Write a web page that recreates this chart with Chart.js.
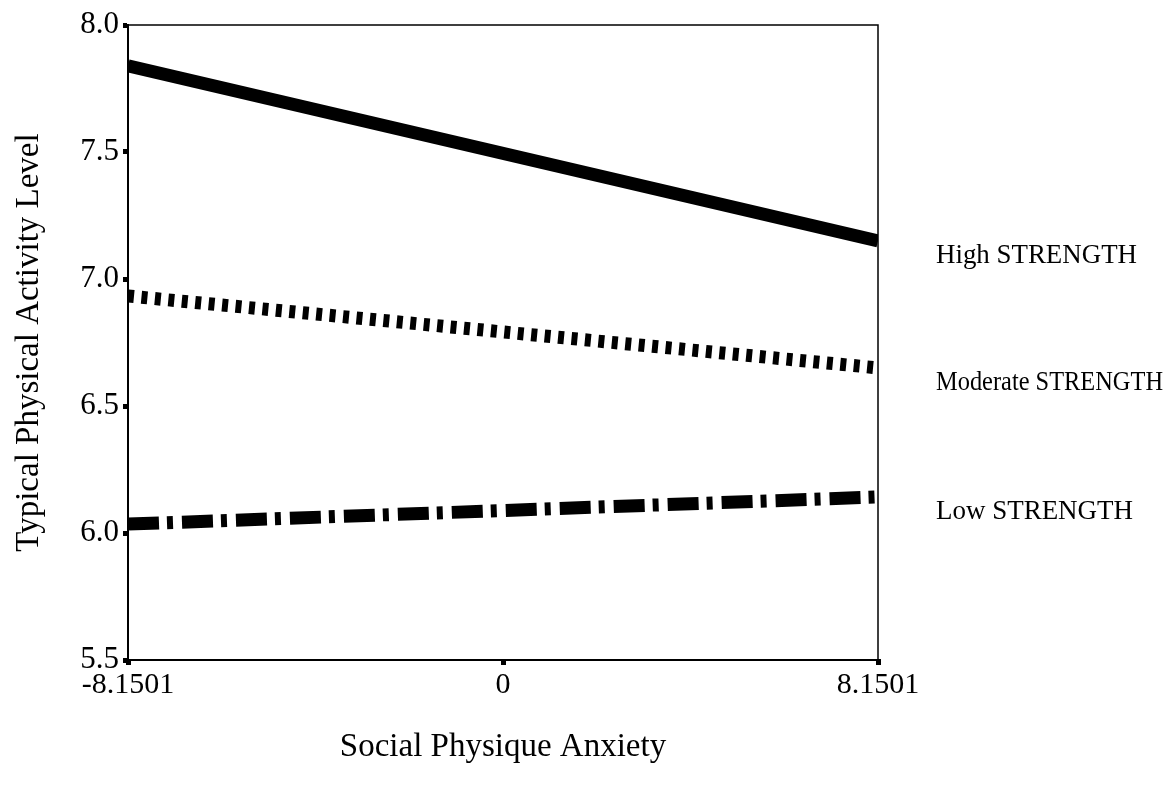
<!DOCTYPE html>
<html>
<head>
<meta charset="utf-8">
<script src="https://cdn.jsdelivr.net/npm/chart.js@4/dist/chart.umd.min.js"></script>
<style>
html,body{margin:0;padding:0;background:#fff;}
#wrap{width:1172px;height:787px;}
</style>
</head>
<body>
<div id="wrap"><canvas id="c" width="1172" height="787"></canvas></div>
<script>
const xValues = [-8.1501, 8.1501];
const xTickLabels = ['-8.1501', '0', '8.1501'];
const xTickValues = [-8.1501, 0, 8.1501];
const highStrength = [7.839, 7.150];
const moderateStrength = [6.933, 6.650];
const lowStrength = [6.035, 6.142];
const seriesNames = ['High STRENGTH', 'Moderate STRENGTH', 'Low STRENGTH'];
const yTickValues = [5.5, 6.0, 6.5, 7.0, 7.5, 8.0];

const FONT = '"Liberation Serif", "Times New Roman", serif';

function pts(vals){ return xValues.map((x,i)=>({x:x,y:vals[i]})); }

const labelPlugin = {
  id:'labels',
  afterDraw(chart){
    const ctx = chart.ctx, a = chart.chartArea;
    ctx.save();
    ctx.strokeStyle = '#000';
    ctx.lineWidth = 1.5;
    ctx.beginPath();
    ctx.moveTo(a.left, a.top); ctx.lineTo(a.right, a.top); ctx.lineTo(a.right, a.bottom);
    ctx.stroke();
    const ys = chart.scales.y;
    ctx.fillStyle = '#000';
    ctx.font = '27px ' + FONT;
    ctx.textBaseline = 'middle';
    ctx.textAlign = 'left';
    const widths = [201, 227, 197];
    chart.data.datasets.forEach((ds,i)=>{
      const last = ds.data[ds.data.length-1].y;
      const y = ys.getPixelForValue(last) + 15;
      ctx.fillText(seriesNames[i], 936, y, widths[i]);
    });
    ctx.restore();
  }
};

new Chart(document.getElementById('c'), {
  type:'line',
  data:{
    datasets:[
      {label:seriesNames[0], data:pts(highStrength), borderColor:'#000', borderWidth:13, pointRadius:0, borderCapStyle:'butt', clip:0, tension:0},
      {label:seriesNames[1], data:pts(moderateStrength), borderColor:'#000', borderWidth:13, borderDash:[6,7.5], pointRadius:0, borderCapStyle:'butt', clip:0, tension:0},
      {label:seriesNames[2], data:pts(lowStrength), borderColor:'#000', borderWidth:13, borderDash:[31,8,6,9], pointRadius:0, borderCapStyle:'butt', clip:0, tension:0}
    ]
  },
  options:{
    responsive:false,
    animation:false,
    events:[],
    layout:{padding:{top:25, right:294, left:0, bottom:0}},
    plugins:{legend:{display:false}, tooltip:{enabled:false}},
    scales:{
      x:{
        type:'linear', min:xValues[0], max:xValues[1],
        afterBuildTicks(s){ s.ticks = xTickValues.map(v=>({value:v})); },
        afterFit(s){ s.height = 127; },
        ticks:{
          autoSkip:false, maxRotation:0, color:'#000', padding:2,
          font:{family:FONT, size:30},
          callback(v, i){ return xTickLabels[i]; }
        },
        grid:{display:true, drawOnChartArea:false, color:'#000', tickLength:5, tickWidth:5, lineWidth:5},
        border:{display:true, color:'#000', width:2},
        title:{display:true, text:'Social Physique Anxiety', color:'#000', font:{family:FONT, size:33}, padding:{top:0,bottom:20}}
      },
      y:{
        min:5.5, max:8.0,
        afterBuildTicks(s){ s.ticks = yTickValues.map(v=>({value:v})); },
        afterFit(s){ s.width = 128; },
        ticks:{
          color:'#000', padding:4,
          font:{family:FONT, size:31},
          callback(v){ return Number(v).toFixed(1); }
        },
        grid:{display:true, drawOnChartArea:false, color:'#000', tickLength:5, tickWidth:5, lineWidth:5},
        border:{display:true, color:'#000', width:2},
        title:{display:true, text:'Typical Physical Activity Level', color:'#000', font:{family:FONT, size:33}, padding:{top:10,bottom:0}}
      }
    }
  },
  plugins:[labelPlugin]
});
</script>
</body>
</html>
